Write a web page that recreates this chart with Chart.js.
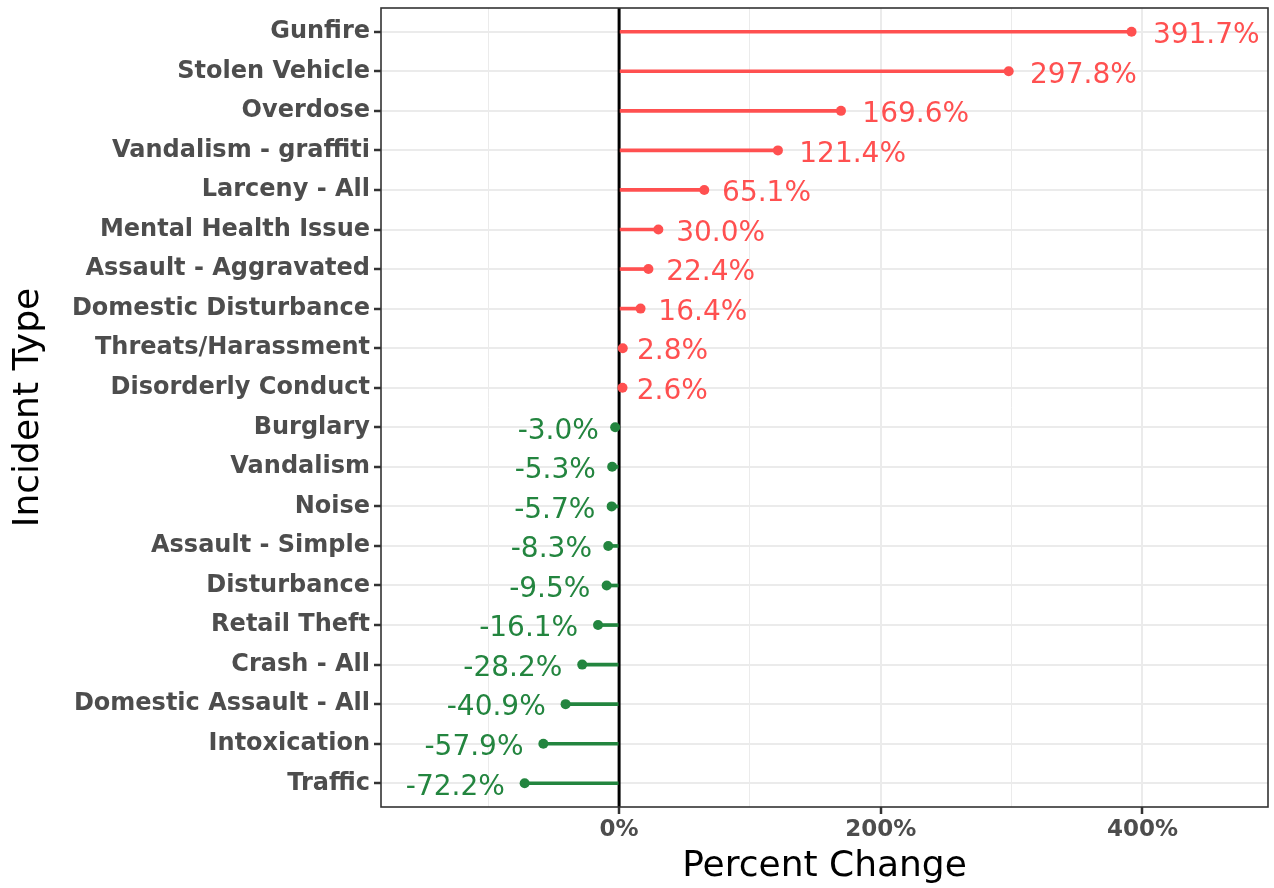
<!DOCTYPE html>
<html>
<head>
<meta charset="utf-8">
<script src="https://cdn.jsdelivr.net/npm/chart.js@4/dist/chart.umd.min.js"></script>
<style>
  body { margin: 0; background: #fff; }
  #wrap { width: 1274px; height: 888px; }
</style>
</head>
<body>
<div id="wrap"><canvas id="chart" width="1274" height="888"></canvas></div>
<script>
// Incident types, top to bottom
const incidentTypes = [
    'Gunfire', 'Stolen Vehicle', 'Overdose', 'Vandalism - graffiti', 'Larceny - All',
    'Mental Health Issue', 'Assault - Aggravated', 'Domestic Disturbance', 'Threats/Harassment',
    'Disorderly Conduct', 'Burglary', 'Vandalism', 'Noise', 'Assault - Simple', 'Disturbance',
    'Retail Theft', 'Crash - All', 'Domestic Assault - All', 'Intoxication', 'Traffic'
];
// Percent change per incident type
const pctChange = [
    391.7, 297.8, 169.6, 121.4, 65.1,
    30.0, 22.4, 16.4, 2.8,
    2.6, -3.0, -5.3, -5.7, -8.3, -9.5,
    -16.1, -28.2, -40.9, -57.9, -72.2
];
// x axis ticks (labelled every 200, minor grid every 100)
const xTickValues = [-100, 0, 100, 200, 300, 400];
const xMajorTicks = [0, 200, 400];

const RED = '#ff5050';
const GREEN = '#23853f';
const FONT = "'DejaVu Sans', 'Open Sans', sans-serif";

const colorFor = v => v >= 0 ? RED : GREEN;

const stemData = pctChange.map((v, i) => ({ x: [0, v], y: i }));
const dotData = pctChange.map((v, i) => ({ x: v, y: i }));

// zero line, panel border and value labels
const lollipopExtras = {
    id: 'lollipopExtras',
    beforeDatasetsDraw(chart) {
        const { ctx, chartArea, scales } = chart;
        const x0 = scales.x.getPixelForValue(0);
        ctx.save();
        ctx.strokeStyle = '#000';
        ctx.lineWidth = 3;
        ctx.beginPath();
        ctx.moveTo(x0, chartArea.top);
        ctx.lineTo(x0, chartArea.bottom);
        ctx.stroke();
        ctx.restore();
    },
    afterDatasetsDraw(chart) {
        const { ctx, chartArea, scales } = chart;
        ctx.save();
        ctx.strokeStyle = '#333';
        ctx.lineWidth = 1.6;
        ctx.strokeRect(chartArea.left, chartArea.top,
            chartArea.right - chartArea.left, chartArea.bottom - chartArea.top);

        ctx.font = '28px ' + FONT;
        ctx.textBaseline = 'middle';
        pctChange.forEach((v, i) => {
            const label = v.toFixed(1) + '%';
            const w = ctx.measureText(label).width;
            const px = scales.x.getPixelForValue(v);
            const py = scales.y.getPixelForValue(i) + 4;
            ctx.fillStyle = colorFor(v);
            if (v >= 0) {
                ctx.textAlign = 'left';
                ctx.fillText(label, px + 0.2 * w, py);
            } else {
                ctx.textAlign = 'right';
                ctx.fillText(label, px - 0.2 * w, py);
            }
        });
        ctx.restore();
    }
};

new Chart(document.getElementById('chart'), {
    type: 'bar',
    data: {
        datasets: [{
            type: 'bar',
            indexAxis: 'y',
            data: stemData,
            backgroundColor: pctChange.map(colorFor),
            borderWidth: 0,
            barThickness: 3
        }, {
            type: 'scatter',
            data: dotData,
            showLine: false,
            pointRadius: 5,
            pointHoverRadius: 5,
            pointBackgroundColor: pctChange.map(colorFor),
            pointBorderWidth: 0
        }]
    },
    plugins: [lollipopExtras],
    options: {
        indexAxis: 'y',
        responsive: false,
        animation: false,
        layout: { padding: { top: 8, right: 6, left: 0, bottom: 0 } },
        plugins: {
            legend: { display: false },
            tooltip: { enabled: false }
        },
        scales: {
            x: {
                type: 'linear',
                position: 'bottom',
                offset: false,
                min: -182,
                max: 496,
                afterBuildTicks: scale => {
                    scale.ticks = xTickValues.map(v => ({ value: v }));
                },
                afterFit: scale => {
                    scale.height = 81;
                    scale.paddingLeft = 0;
                    scale.paddingRight = 0;
                },
                border: { display: false },
                grid: {
                    offset: false,
                    color: ctx => ctx.tick && ctx.tick.value === 0 ? 'rgba(0,0,0,0)' : '#ebebeb',
                    lineWidth: ctx => ctx.tick && xMajorTicks.includes(ctx.tick.value) ? 2 : 1,
                    tickColor: ctx => ctx.tick && xMajorTicks.includes(ctx.tick.value) ? '#333' : 'rgba(0,0,0,0)',
                    tickWidth: 2.5,
                    tickLength: 7
                },
                ticks: {
                    autoSkip: false,
                    maxRotation: 0,
                    padding: 2,
                    color: '#4d4d4d',
                    font: { family: FONT, size: 23, weight: 'bold' },
                    callback: v => xMajorTicks.includes(v) ? v + '%' : ''
                },
                title: {
                    display: true,
                    text: 'Percent Change',
                    color: '#000',
                    font: { family: FONT, size: 36 },
                    padding: { top: 0, bottom: 0 }
                }
            },
            y: {
                type: 'linear',
                position: 'left',
                reverse: true,
                offset: false,
                min: -0.6,
                max: 19.6,
                afterBuildTicks: scale => {
                    scale.ticks = incidentTypes.map((c, i) => ({ value: i }));
                },
                afterFit: scale => {
                    scale.width = 381;
                    scale.paddingTop = 0;
                    scale.paddingBottom = 0;
                },
                border: { display: false },
                grid: {
                    offset: false,
                    color: '#ebebeb',
                    lineWidth: 2,
                    tickColor: '#333',
                    tickWidth: 2.5,
                    tickLength: 7
                },
                ticks: {
                    autoSkip: false,
                    padding: 4,
                    color: '#4d4d4d',
                    font: { family: FONT, size: 24, weight: 'bold' },
                    callback: v => incidentTypes[v]
                },
                title: {
                    display: true,
                    text: 'Incident Type',
                    color: '#000',
                    font: { family: FONT, size: 36 },
                    padding: { top: 7, bottom: 0 }
                }
            }
        }
    }
});
</script>
</body>
</html>
